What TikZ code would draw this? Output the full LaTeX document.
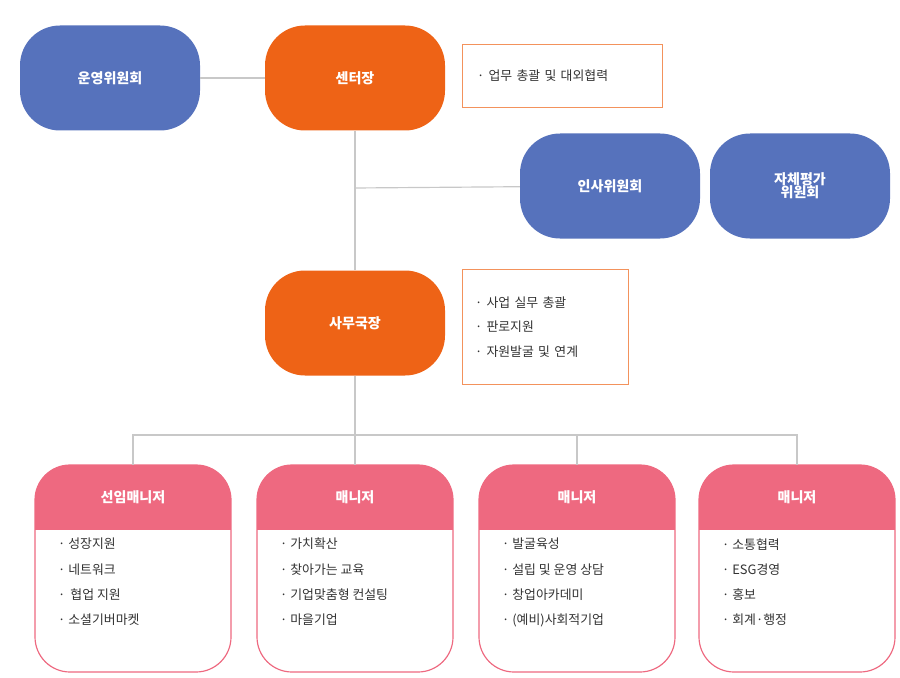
\documentclass[tikz,border=0pt]{standalone}
\usepackage{fontspec}
\setmainfont{Noto Sans CJK KR}
\definecolor{blu}{HTML}{5672BC}
\definecolor{org}{HTML}{EE6316}
\definecolor{pnk}{HTML}{EE6980}
\definecolor{lin}{HTML}{C8C8C8}
\definecolor{txt}{HTML}{333333}
\tikzset{
  pill/.style={rounded corners=40*0.03cm, minimum width=180*0.03cm, minimum height=105*0.03cm, text=white, font=\bfseries\fontsize{12}{14}\selectfont, align=center},
  note/.style={draw=org!70, fill=white, align=left, text=txt, font=\fontsize{11}{21}\selectfont, inner sep=0pt},
  conn/.style={draw=lin, line width=1pt},
}
\begin{document}
\begin{tikzpicture}[x=0.03cm, y=-0.03cm]
\useasboundingbox (0,0) rectangle (900,678);
% lines first
\coordinate (hub) at (355,435);
\coordinate (mid) at (355,188);
\node[pill, fill=blu] (board) at (110,78) {운영위원회};
\node[pill, fill=org] (head) at (355,78) {센터장};
\node[pill, fill=blu] (hr) at (610,186) {인사위원회};
\node[pill, fill=blu] (eval) at (800,186) {자체평가\\[-3pt]위원회};
\node[pill, fill=org] (chief) at (355,323) {사무국장};
\draw[conn] (board) -- (head);
\draw[conn] (head) -- (chief);
\draw[conn] (mid) -- (hr);
\draw[conn] (chief) -- (hub);
\node[note, minimum width=200*0.03cm, minimum height=63*0.03cm, text width=170*0.03cm] (n1) at (562,76) {· 업무 총괄 및 대외협력};
\node[note, minimum width=166*0.03cm, minimum height=115*0.03cm, text width=140*0.03cm] (n2) at (545,327) {· 사업 실무 총괄\\· 판로지원\\· 자원발굴 및 연계};
\foreach \x/\id/\ttl/\a/\b/\c/\d in {
  133/m1/선임매니저/성장지원/네트워크\,/\,협업 지원/소셜기버마켓/(사회적)협동조합,
  355/m2/매니저/가치확산/찾아가는 교육/기업맞춤형 컨설팅/마을기업,
  577/m3/매니저/발굴육성/설립 및 운영 상담/창업아카데미/(예비)사회적기업,
  797/m4/매니저/소통협력/ESG경영/홍보/회계·행정}{
  \begin{scope}
    \clip[rounded corners=35*0.03cm] (\x-98,465) rectangle (\x+98,672);
    \fill[white] (\x-98,465) rectangle (\x+98,672);
    \fill[pnk] (\x-98,465) rectangle (\x+98,530);
  \end{scope}
  \draw[pnk, line width=1pt, rounded corners=35*0.03cm] (\x-98,465) rectangle (\x+98,672);
  \node[text=white, font=\bfseries\fontsize{12}{14}\selectfont] (\id) at (\x,497) {\ttl};
  \node[anchor=north west, align=left, text=txt, font=\fontsize{11}{21.5}\selectfont, inner sep=0pt] (\id list) at (\x-75,538) {· \a\\· \b\\· \c\\· \d};
  \draw[conn] (hub) -| (\x,465);
}
\end{tikzpicture}
\end{document}
